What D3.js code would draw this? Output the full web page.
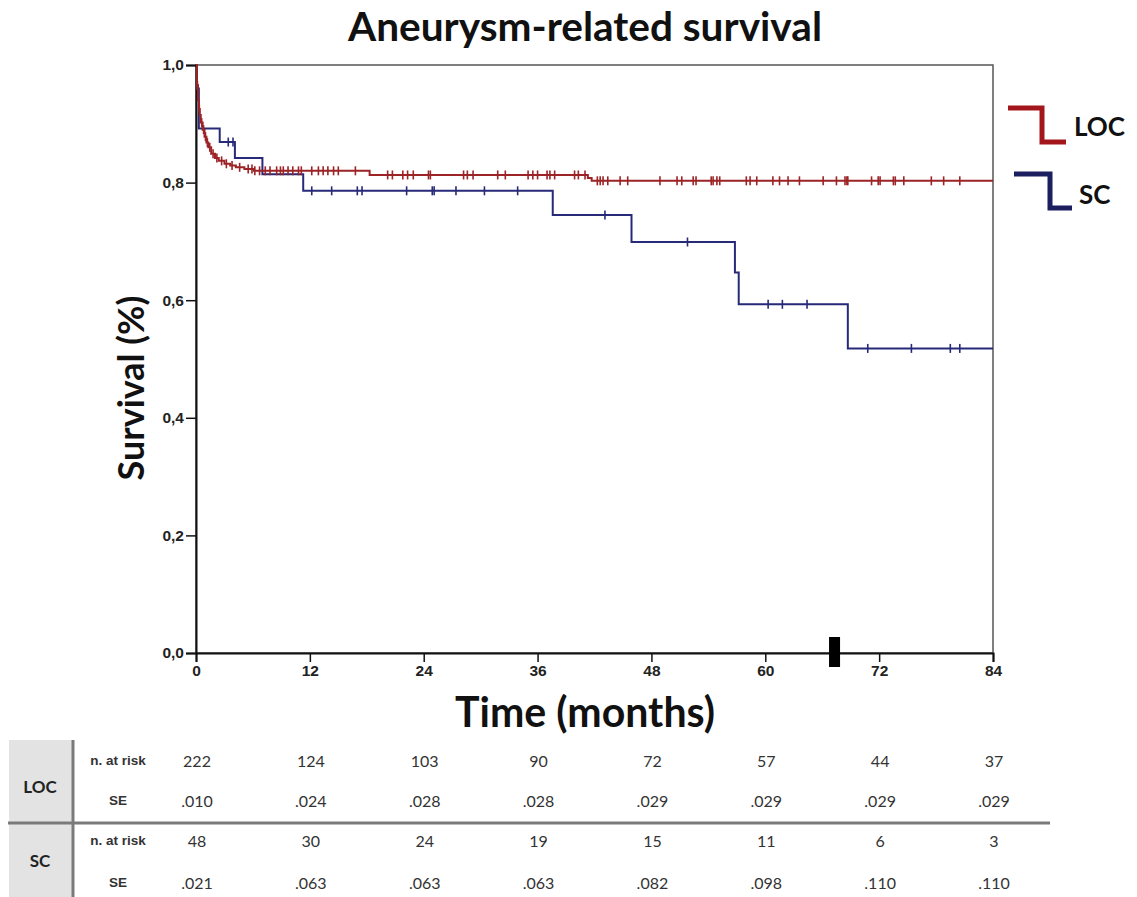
<!DOCTYPE html>
<html>
<head>
<meta charset="utf-8">
<script src="https://cdn.jsdelivr.net/npm/d3@7"></script>
<style>
  html, body { margin: 0; padding: 0; background: #fff; }
  svg { display: block; }
</style>
</head>
<body>
<svg id="chart" width="1137" height="897"></svg>
<script>
// ---------------- DATA ----------------
const titleText = "Aneurysm-related survival";
const xTitle = "Time (months)";
const yTitle = "Survival (%)";
const groups = ["LOC", "SC"];

const xTicks = [0, 12, 24, 36, 48, 60, 72, 84];
const yTicks = [0, 0.2, 0.4, 0.6, 0.8, 1.0];

// LOC Kaplan-Meier steps (time in months, survival)
const locStepTimes = [0, 0.1, 0.2, 0.3, 0.4, 0.5, 0.7, 0.9, 1.1, 1.3, 1.6, 2.0, 2.4, 3.0, 3.6, 4.2, 5.1, 6.1, 18.3, 41.3, 41.7, 84];
const locStepSurv  = [1.0, 0.965, 0.94, 0.925, 0.915, 0.902, 0.89, 0.878, 0.868, 0.86, 0.849, 0.842, 0.837, 0.832, 0.829, 0.826, 0.823, 0.820, 0.813, 0.808, 0.803, 0.803];
const locCensor = [0.15, 0.35, 0.6, 0.8, 1.0, 1.2, 1.45, 1.8, 2.2, 2.7, 3.2, 3.8, 4.6, 5.5, 5.9, 6.2, 6.7, 7.3, 7.8, 8.5, 8.9, 9.2, 9.7, 10.2, 10.8, 11.1,
  12.2, 12.9, 13.4, 13.9, 14.5, 15.0, 16.8, 20.2, 20.7, 21.8, 22.3, 22.9, 24.5, 24.7, 28.2, 28.6, 29.2, 31.8, 32.6, 35.0, 35.5, 36.0,
  37.0, 37.3, 37.8, 39.9, 40.3, 41.0, 42.3, 42.6, 42.9, 43.4, 44.7, 45.5, 48.9, 50.7, 51.2, 52.4, 52.7, 54.3, 54.5, 54.9, 55.2,
  58.0, 58.4, 59.1, 60.8, 61.5, 62.4, 63.6, 66.1, 67.5, 68.4, 68.6, 68.7, 71.2, 71.9, 72.1, 73.5, 73.7, 74.6, 77.5, 78.8, 80.5];

// SC Kaplan-Meier steps
const scStepTimes = [0, 0.1, 0.3, 2.5, 4.1, 7.0, 11.3, 37.6, 45.9, 56.8, 57.2, 68.7, 84];
const scStepSurv  = [1.0, 0.96, 0.892, 0.869, 0.842, 0.814, 0.786, 0.745, 0.699, 0.647, 0.593, 0.518, 0.518];
const scCensor = [0.2, 3.4, 3.9, 12.2, 14.3, 17.0, 17.5, 22.2, 24.9, 25.1, 27.4, 30.4, 33.9, 43.1, 51.8, 60.3, 61.8, 64.4, 70.8, 75.4, 79.5, 80.5];

// reference marker on time axis
const markerMonth = [67.3];

// number-at-risk table
const tableTimes = [0, 12, 24, 36, 48, 60, 72, 84];
const locAtRisk = ["222", "124", "103", "90", "72", "57", "44", "37"];
const locSE     = [".010", ".024", ".028", ".028", ".029", ".029", ".029", ".029"];
const scAtRisk  = ["48", "30", "24", "19", "15", "11", "6", "3"];
const scSE      = [".021", ".063", ".063", ".063", ".082", ".098", ".110", ".110"];
const rowLabels = ["n. at risk", "SE"];

// ---------------- LAYOUT ----------------
const svg = d3.select("#chart");
const colors = { LOC: "#9c2326", SC: "#272a78" };
const legendColors = { LOC: "#a3171c", SC: "#1c1f5e" };
const m = { left: 196, right: 993, top: 65, bottom: 653 };

const x = d3.scaleLinear().domain([0, 84]).range([m.left, m.right]);
const y = d3.scaleLinear().domain([0, 1]).range([m.bottom, m.top]);

const boldFont = "'Lato', 'Open Sans', sans-serif";
const narrowFont = "'Liberation Sans Narrow', 'Arial Narrow', 'Liberation Sans', sans-serif";

function fitWidth(sel, target) {
  let fs = parseFloat(sel.attr("font-size"));
  const w = sel.node().getComputedTextLength();
  sel.attr("font-size", (fs * target / w).toFixed(2));
}

// title
svg.append("text")
  .attr("x", 585).attr("y", 41)
  .attr("text-anchor", "middle")
  .attr("font-family", boldFont).attr("font-weight", 700)
  .attr("font-size", 34).attr("fill", "#111")
  .text(titleText)
  .call(s => fitWidth(s, 474));

// frame
svg.append("rect")
  .attr("x", m.left).attr("y", m.top)
  .attr("width", m.right - m.left).attr("height", m.bottom - m.top)
  .attr("fill", "none").attr("stroke", "#555").attr("stroke-width", 1.5);

// axes
const yAxis = d3.axisLeft(y).tickValues(yTicks).tickSize(10)
  .tickFormat(d => d3.format(".1f")(d).replace(".", ","));
const gy = svg.append("g").attr("transform", `translate(${m.left},0)`).call(yAxis);
gy.select(".domain").attr("stroke", "#111").attr("stroke-width", 2);
gy.selectAll(".tick line").attr("stroke", "#111").attr("stroke-width", 1.5);
gy.selectAll(".tick text").attr("font-family", narrowFont).attr("font-weight", 700)
  .attr("font-size", 15.5).attr("fill", "#222").attr("x", -12);

const xAxis = d3.axisBottom(x).tickValues(xTicks).tickSize(9).tickFormat(d3.format("d"));
const gx = svg.append("g").attr("transform", `translate(0,${m.bottom})`).call(xAxis);
gx.select(".domain").attr("stroke", "#111").attr("stroke-width", 2);
gx.selectAll(".tick line").attr("stroke", "#111").attr("stroke-width", 1.5);
gx.selectAll(".tick text").attr("font-family", narrowFont).attr("font-weight", 700)
  .attr("font-size", 15.5).attr("fill", "#222").attr("y", 12);

// axis titles
svg.append("text")
  .attr("x", 585).attr("y", 727)
  .attr("text-anchor", "middle")
  .attr("font-family", boldFont).attr("font-weight", 700)
  .attr("font-size", 34).attr("fill", "#111")
  .text(xTitle)
  .call(s => fitWidth(s, 260));

svg.append("text")
  .attr("transform", "translate(144,388) rotate(-90)")
  .attr("text-anchor", "middle")
  .attr("font-family", boldFont).attr("font-weight", 700)
  .attr("font-size", 34).attr("fill", "#111")
  .text(yTitle)
  .call(s => fitWidth(s, 185));

// curves
const series = [
  { key: "LOC", times: locStepTimes, surv: locStepSurv, censor: locCensor },
  { key: "SC", times: scStepTimes, surv: scStepSurv, censor: scCensor }
];
const line = d3.line().x(d => x(d[0])).y(d => y(d[1])).curve(d3.curveStepAfter);

function survAt(s, t) {
  let v = s.surv[0];
  for (let i = 0; i < s.times.length; i++) if (s.times[i] <= t) v = s.surv[i];
  return v;
}

[series[1], series[0]].forEach(s => {
  const pts = s.times.map((t, i) => [t, s.surv[i]]);
  svg.append("path").datum(pts)
    .attr("d", line).attr("fill", "none")
    .attr("stroke", colors[s.key]).attr("stroke-width", 2);
  svg.append("g").selectAll("line").data(s.censor).join("line")
    .attr("x1", d => x(d)).attr("x2", d => x(d))
    .attr("y1", d => y(survAt(s, d)) - 4.5).attr("y2", d => y(survAt(s, d)) + 4.5)
    .attr("stroke", colors[s.key]).attr("stroke-width", 1.6);
});

// marker on x axis
svg.append("g").selectAll("rect").data(markerMonth).join("rect")
  .attr("x", d => x(d) - 5.5).attr("y", 637)
  .attr("width", 11).attr("height", 30).attr("fill", "#000");

// legend
const legendItems = [
  { key: "LOC", x0: 1008, yTop: 108, xMid: 1042, yBot: 142, x1: 1066, tx: 1074, ty: 126 },
  { key: "SC", x0: 1014, yTop: 174, xMid: 1050, yBot: 208, x1: 1072, tx: 1079, ty: 194 }
];
legendItems.forEach(l => {
  svg.append("path")
    .attr("d", `M${l.x0},${l.yTop}H${l.xMid}V${l.yBot}H${l.x1}`)
    .attr("fill", "none").attr("stroke", legendColors[l.key]).attr("stroke-width", 5);
  svg.append("text").attr("x", l.tx).attr("y", l.ty)
    .attr("dominant-baseline", "central")
    .attr("font-family", boldFont).attr("font-weight", 700)
    .attr("font-size", 26).attr("fill", "#111").text(l.key);
});

// table
const tbl = svg.append("g");
tbl.append("rect").attr("x", 9).attr("y", 740).attr("width", 63).attr("height", 82).attr("fill", "#e3e3e3");
tbl.append("rect").attr("x", 9).attr("y", 824).attr("width", 63).attr("height", 73).attr("fill", "#e3e3e3");
tbl.append("line").attr("x1", 73).attr("x2", 73).attr("y1", 740).attr("y2", 897)
  .attr("stroke", "#7a7a7a").attr("stroke-width", 3);
tbl.append("line").attr("x1", 8).attr("x2", 1050).attr("y1", 823).attr("y2", 823)
  .attr("stroke", "#7a7a7a").attr("stroke-width", 3);

const tableRows = [
  { group: "LOC", label: rowLabels[0], vals: locAtRisk, cy: 760 },
  { group: "LOC", label: rowLabels[1], vals: locSE, cy: 800 },
  { group: "SC", label: rowLabels[0], vals: scAtRisk, cy: 840 },
  { group: "SC", label: rowLabels[1], vals: scSE, cy: 882 }
];
[{ g: "LOC", cy: 786 }, { g: "SC", cy: 860 }].forEach(r => {
  tbl.append("text").attr("x", 40).attr("y", r.cy)
    .attr("text-anchor", "middle").attr("dominant-baseline", "central")
    .attr("font-family", boldFont).attr("font-weight", 700)
    .attr("font-size", 17).attr("fill", "#222").text(r.g);
});
tableRows.forEach(r => {
  tbl.append("text").attr("x", 118).attr("y", r.cy)
    .attr("text-anchor", "middle").attr("dominant-baseline", "central")
    .attr("font-family", narrowFont).attr("font-weight", 700)
    .attr("font-size", 13.5).attr("fill", "#333").text(r.label);
  tbl.append("g").selectAll("text").data(r.vals).join("text")
    .attr("x", (d, i) => x(tableTimes[i]) + 1).attr("y", r.cy)
    .attr("text-anchor", "middle").attr("dominant-baseline", "central")
    .attr("font-family", "'Lato', 'Open Sans', sans-serif")
    .attr("font-size", 16).attr("fill", "#333").text(d => d);
});
</script>
</body>
</html>
